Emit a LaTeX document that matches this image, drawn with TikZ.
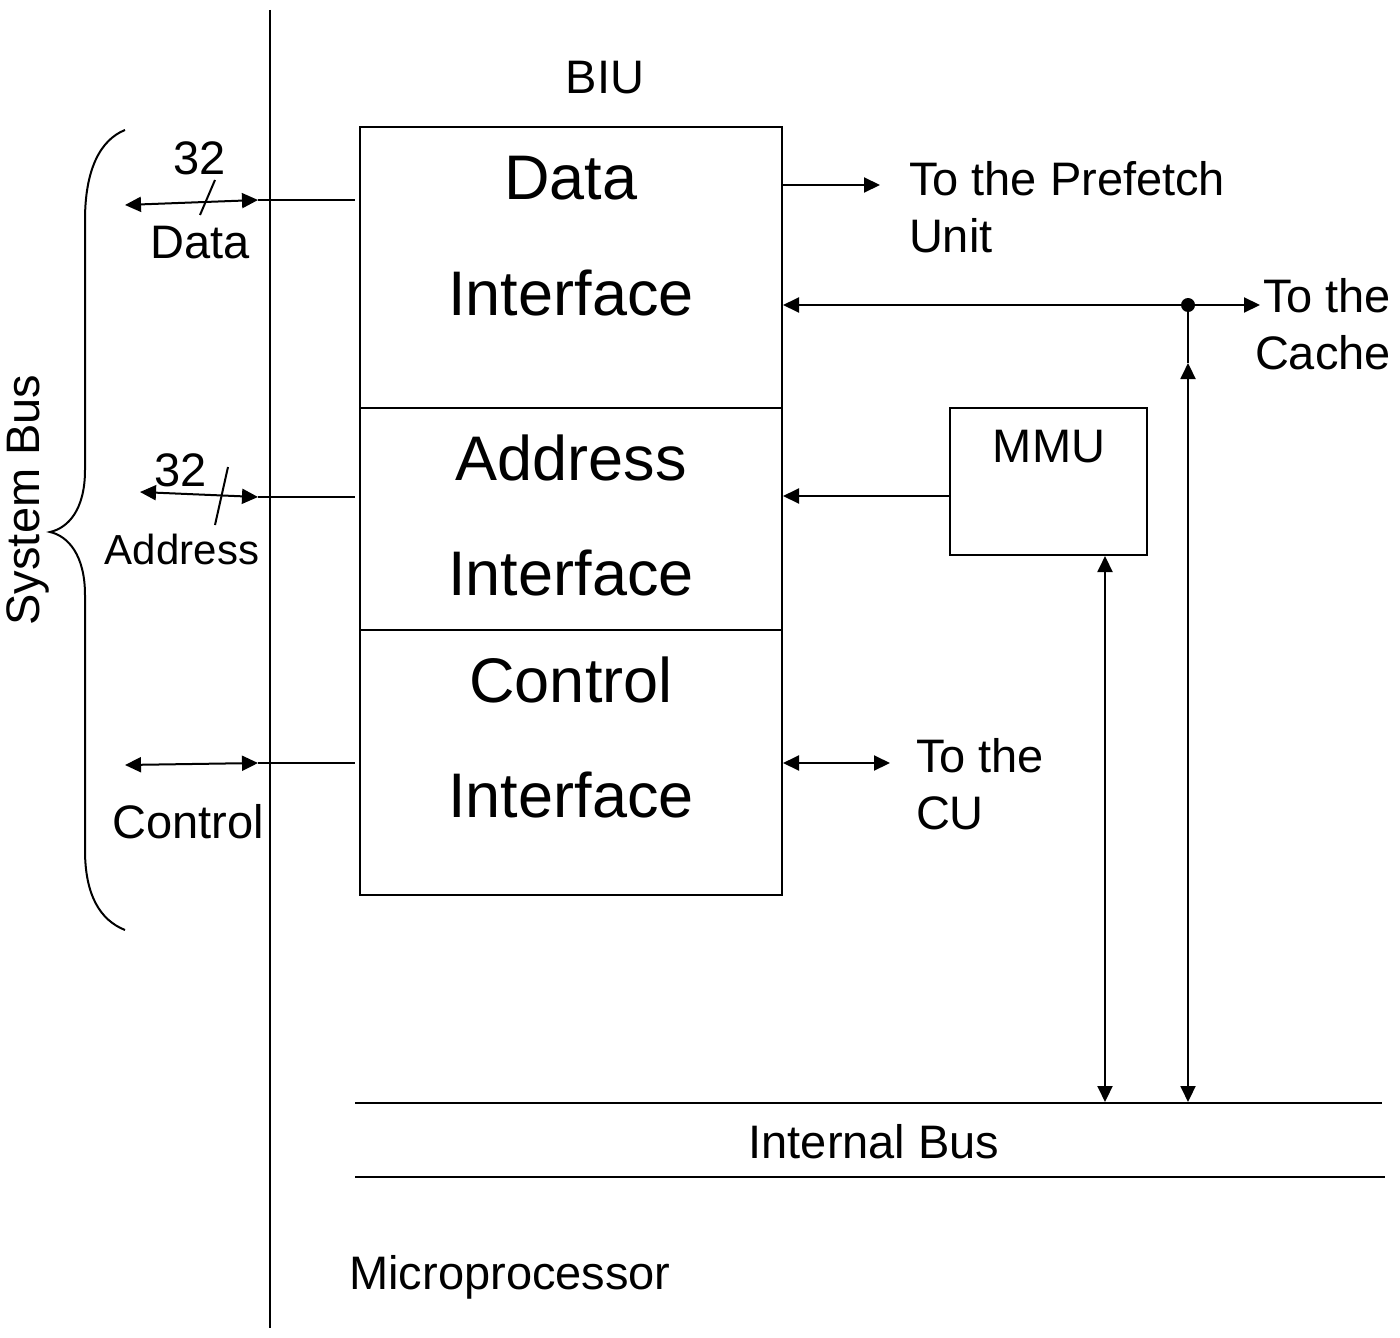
\documentclass[tikz,border=0pt]{standalone}
\usepackage{fontspec}
\setmainfont{Liberation Sans}
\usetikzlibrary{arrows.meta}
\begin{document}
\begin{tikzpicture}[x=0.5pt,y=-0.5pt,
  line width=1pt,
  >={Triangle[length=8pt,width=7.5pt]},
  lbl/.style={inner sep=0pt,font=\fontsize{23.5}{28.5}\selectfont},
  big/.style={inner sep=0pt,font=\fontsize{31.5}{38}\selectfont},
  small/.style={inner sep=0pt,font=\fontsize{21}{25}\selectfont},
  ml/.style={lbl,align=left,anchor=north west}]
\useasboundingbox (0,0) rectangle (1400,1337);
% main vertical line
\coordinate (vt) at (270,10);
\coordinate (vb) at (270,1328);
\draw (vt) -- (vb);
% brace
\draw (125,130) .. controls (100,140) and (85,170) .. (85,220) -- (85,470)
  .. controls (85,510) and (68,528) .. (50,532)
  .. controls (68,536) and (85,555) .. (85,595) -- (85,850)
  .. controls (85,895) and (100,920) .. (125,930);
\node[lbl,rotate=90] (sysbus) at (28,500) {System Bus};
% BIU box
\node[lbl] (biu) at (605,78) {BIU};
\draw (360,127) rectangle (782,895);
\draw (360,408) -- (782,408);
\draw (360,630) -- (782,630);
\node[big] (d1) at (571,178) {Data};
\node[big] (d2) at (571,293) {Interface};
\node[big] (a1) at (571,458) {Address};
\node[big] (a2) at (571,573) {Interface};
\node[big] (c1) at (571,680) {Control};
\node[big] (c2) at (571,795) {Interface};
% left connectors
\coordinate (dL) at (125,205); \coordinate (dM) at (258,200); \coordinate (dR) at (355,200);
\draw[<->] (dL) -- (dM); \draw (dM) -- (dR);
\coordinate (ds1) at (215,180); \coordinate (ds2) at (200,215);
\draw (ds1) -- (ds2);
\node[lbl] (d32) at (200,158) {32};
\node[lbl] (dlab) at (200,243) {Data};
\coordinate (aL) at (140,492); \coordinate (aM) at (258,497); \coordinate (aR) at (355,497);
\draw[<->] (aL) -- (aM); \draw (aM) -- (aR);
\coordinate (as1) at (228,467); \coordinate (as2) at (215,525);
\draw (as1) -- (as2);
\node[lbl] (a32) at (181,470) {32};
\node[small] (alab) at (182,549) {Address};
\coordinate (cL) at (125,765); \coordinate (cM) at (258,763); \coordinate (cR) at (355,763);
\draw[<->] (cL) -- (cM); \draw (cM) -- (cR);
\node[lbl] (clab) at (188,822) {Control};
% right side
\coordinate (pf1) at (783,185); \coordinate (pf2) at (880,185);
\draw[->] (pf1) -- (pf2);
\node[ml] (pftxt) at (908,160) {To the Prefetch\\Unit};
\coordinate (cacheL) at (783,305); \coordinate (dot) at (1188,305); \coordinate (cacheR) at (1260,305);
\draw[<-] (cacheL) -- (dot);
\draw[->] (dot) -- (cacheR);
\fill (dot) circle[radius=3.5pt];
\node[lbl,anchor=north west] (cachetxt1) at (1262,277) {To the};
\node[lbl,anchor=north west] (cachetxt2) at (1254,334) {Cache};
\coordinate (cv) at (1188,363); \coordinate (cvb) at (1188,1102);
\draw (dot) -- (cv);
\draw[<->] (cv) -- (cvb);
% MMU
\node[draw,minimum width=98.5pt,minimum height=73.5pt,inner sep=0pt] (mmu) at (1048.5,481.5) {};
\node[lbl] (mmutxt) at (1049,447) {MMU};
\coordinate (mmuL) at (950,496); \coordinate (aIn) at (783,496);
\draw[->] (mmuL) -- (aIn);
\coordinate (mv) at (1105,556); \coordinate (mvb) at (1105,1102);
\draw[<->] (mv) -- (mvb);
% CU
\coordinate (cu1) at (783,763); \coordinate (cu2) at (890,763);
\draw[<->] (cu1) -- (cu2);
\node[ml] (cutxt) at (915,737) {To the\\CU};
% internal bus
\coordinate (ib1) at (355,1103); \coordinate (ib2) at (1382,1103);
\coordinate (ib3) at (355,1177); \coordinate (ib4) at (1385,1177);
\draw (ib1) -- (ib2);
\draw (ib3) -- (ib4);
\node[lbl] (ibtxt) at (874,1142) {Internal Bus};
\node[lbl] (micro) at (510,1277) {Microprocessor};
\end{tikzpicture}
\end{document}
